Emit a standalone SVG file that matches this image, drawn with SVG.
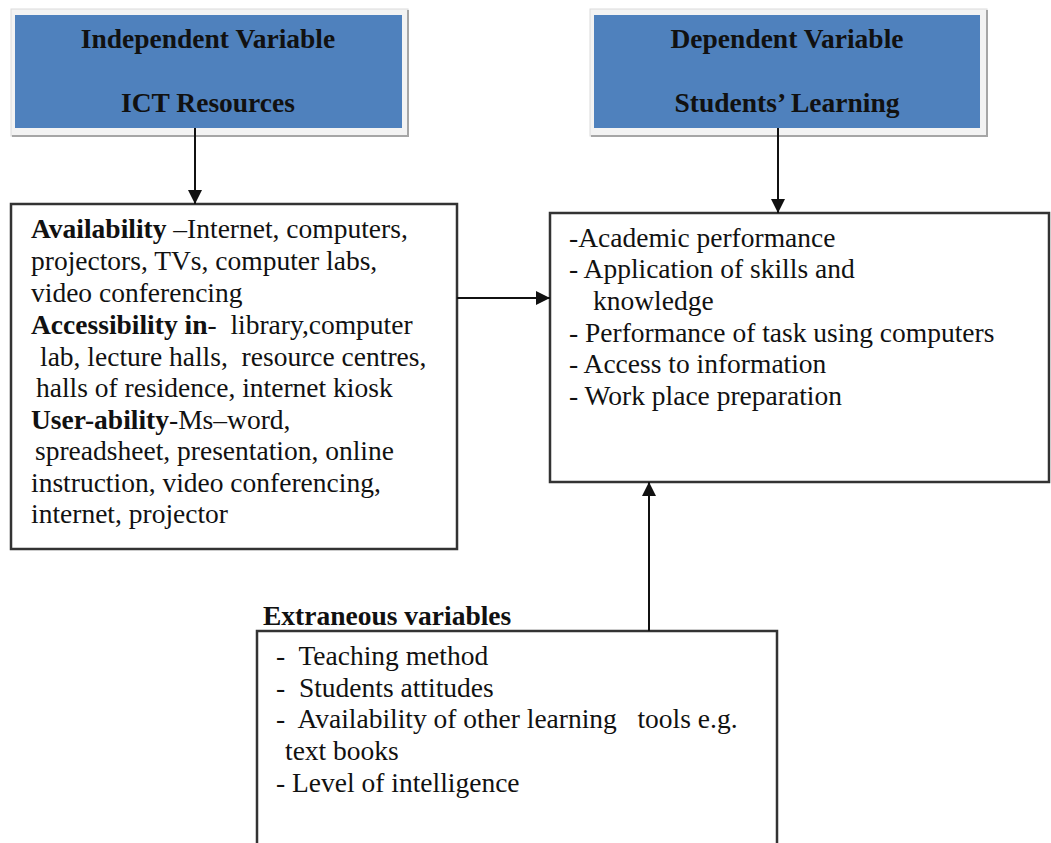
<svg xmlns="http://www.w3.org/2000/svg" width="1051" height="843" viewBox="0 0 1051 843">
<style>
text{font-family:"Liberation Serif","Times New Roman",serif;font-size:27.5px;fill:#111}
.b{font-weight:bold}
.t{font-weight:bold;text-anchor:middle}
.box{fill:#fff;stroke:#333;stroke-width:2.5}
.frame{fill:#f3f3f3;stroke:#dcdcdc;stroke-width:1}
.blue{fill:#4F81BD}
.shadow{stroke:#a6a6a6;stroke-width:2;fill:none}
.conn{stroke:#111;stroke-width:2;fill:none}
</style>
<defs>
<marker id="ah" markerUnits="userSpaceOnUse" markerWidth="14" markerHeight="14" viewBox="0 0 14 14" refX="14" refY="7" orient="auto">
<path d="M0,0 L14,7 L0,14 Z" fill="#111"/>
</marker>
</defs>
<rect width="1051" height="843" fill="#fff"/>
<g id="independent-variable">
<rect class="frame" x="11" y="9" width="397" height="127"/>
<path class="shadow" d="M12,136 H408 V10"/>
<rect class="blue" x="15" y="15" width="387" height="113"/>
<text class="t" x="208" y="48">Independent Variable</text>
<text class="t" x="208" y="112">ICT Resources</text>
</g>
<g id="dependent-variable">
<rect class="frame" x="590" y="9" width="397" height="127"/>
<path class="shadow" d="M591,136 H987 V10"/>
<rect class="blue" x="594" y="15" width="386" height="113"/>
<text class="t" x="787" y="48">Dependent Variable</text>
<text class="t" x="787" y="112">Students’ Learning</text>
</g>
<g id="ict-resources-box">
<rect class="box" x="11" y="204" width="446" height="345"/>
<text xml:space="preserve" x="31" y="238"><tspan class="b">Availability</tspan> –Internet, computers,</text>
<text xml:space="preserve" x="31" y="270">projectors, TVs, computer labs,</text>
<text xml:space="preserve" x="31" y="302">video conferencing</text>
<text xml:space="preserve" x="31" y="334"><tspan class="b">Accessibility in</tspan>-  library,computer</text>
<text xml:space="preserve" x="40" y="366">lab, lecture halls,  resource centres,</text>
<text xml:space="preserve" x="36" y="397">halls of residence, internet kiosk</text>
<text xml:space="preserve" x="31" y="429"><tspan class="b">User-ability</tspan>-Ms–word,</text>
<text xml:space="preserve" x="35" y="460">spreadsheet, presentation, online</text>
<text xml:space="preserve" x="31" y="492">instruction, video conferencing,</text>
<text xml:space="preserve" x="31" y="523">internet, projector</text>
</g>
<g id="students-learning-box">
<rect class="box" x="550" y="213" width="499" height="269"/>
<text xml:space="preserve" x="569" y="247">-Academic performance</text>
<text xml:space="preserve" x="569" y="278">- Application of skills and</text>
<text xml:space="preserve" x="593" y="310">knowledge</text>
<text xml:space="preserve" x="569" y="342">- Performance of task using computers</text>
<text xml:space="preserve" x="569" y="373">- Access to information</text>
<text xml:space="preserve" x="569" y="405">- Work place preparation</text>
</g>
<g id="extraneous-variables">
<text class="b" x="263" y="625">Extraneous variables</text>
<rect class="box" x="257" y="631" width="520" height="230"/>
<text xml:space="preserve" x="276" y="665">-  Teaching method</text>
<text xml:space="preserve" x="276" y="697">-  Students attitudes</text>
<text xml:space="preserve" x="276" y="728">-  Availability of other learning   tools e.g.</text>
<text xml:space="preserve" x="285" y="760">text books</text>
<text xml:space="preserve" x="276" y="792">- Level of intelligence</text>
</g>
<g id="connectors">
<line class="conn" x1="195" y1="128" x2="195" y2="204" marker-end="url(#ah)"/>
<line class="conn" x1="778" y1="128" x2="778" y2="213" marker-end="url(#ah)"/>
<line class="conn" x1="457" y1="298" x2="550" y2="298" marker-end="url(#ah)"/>
<line class="conn" x1="649" y1="631" x2="649" y2="482" marker-end="url(#ah)"/>
</g>
</svg>
